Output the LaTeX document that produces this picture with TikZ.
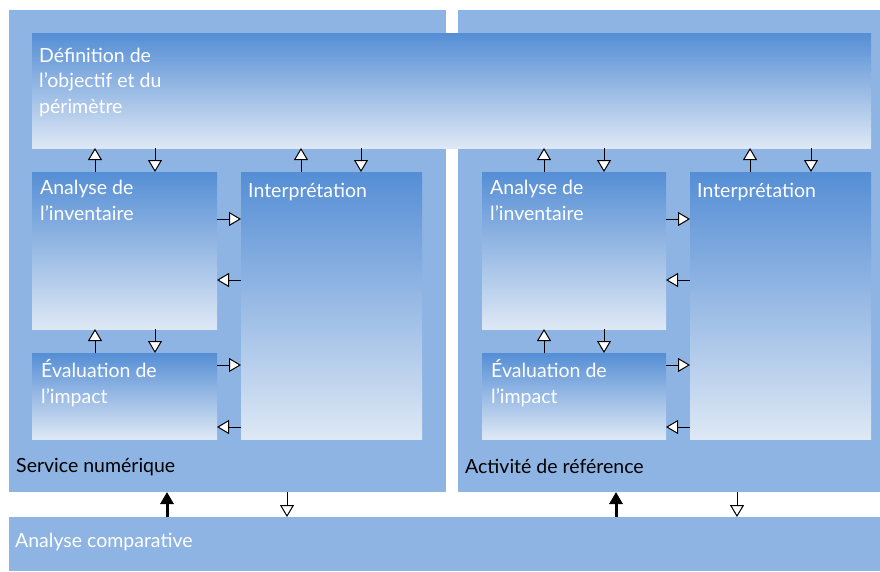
\documentclass[tikz,border=0pt]{standalone}
\usepackage{fontspec}
\setmainfont{Lato}
\usetikzlibrary{calc,arrows.meta}

\definecolor{panelblue}{HTML}{8EB4E3}
\definecolor{topblue}{HTML}{558ED5}
\definecolor{lowblue}{HTML}{DEE8F5}

\tikzset{
  panel/.style={fill=panelblue, inner sep=0, outer sep=0, anchor=north west},
  stepbox/.style={top color=topblue, bottom color=lowblue, inner sep=0, outer sep=0, anchor=north west},
  boxtext/.style={text=white, anchor=base west, align=left, inner sep=0,
    font=\fontsize{19.5}{25.5}\selectfont},
  paneltext/.style={text=black, anchor=base west, inner sep=0, font=\fontsize{19.5}{25}\selectfont},
  oarr/.style={line width=1pt, -{Triangle[width=14pt,length=12pt,fill=white]}},
  barr/.style={line width=3pt, -{Triangle[width=13pt,length=12pt]}}
}

\begin{document}
\begin{tikzpicture}[x=1pt,y=-1pt]
\useasboundingbox (0,0) rectangle (880,571);
% panels
\node[panel, minimum width=437, minimum height=482] (svc) at (9,10) {};
\node[panel, minimum width=422, minimum height=482] (ref) at (458,10) {};
\node[panel, minimum width=871, minimum height=54] (comp) at (9,517) {};
\node[paneltext] at ($(svc.south west)+(7,-20)$) {Service numérique};
\node[paneltext] at ($(ref.south west)+(7,-19)$) {Activité de référence};
\node[boxtext] at ($(comp.north west)+(6,30)$) {Analyse comparative};
% common box (base = last line)
\node[stepbox, minimum width=839, minimum height=115] (def) at (32,33) {};
\node[boxtext] at ($(def.north west)+(7,80)$) {Définition de\\l’objectif et du\\périmètre};

% service numerique
\node[stepbox, minimum width=185, minimum height=157] (invL) at (32,172) {};
\node[stepbox, minimum width=185, minimum height=86] (evalL) at (32,353) {};
\node[stepbox, minimum width=181, minimum height=267] (intL) at (241,172) {};
\node[boxtext] at ($(invL.north west)+(8,48)$) {Analyse de\\l’inventaire};
\node[boxtext] at ($(evalL.north west)+(9,50)$) {Évaluation de\\l’impact};
\node[boxtext] at ($(intL.north west)+(7,25)$) {Interprétation};
\draw[oarr] ($(invL.north west)+(63,0)$) coordinate (u) -- (u |- def.south);
\draw[oarr] ($(invL.north west)+(123,0)$) coordinate (d) (d |- def.south) -- (d);
\draw[oarr] ($(intL.north west)+(60,0)$) coordinate (u) -- (u |- def.south);
\draw[oarr] ($(intL.north west)+(120,0)$) coordinate (d) (d |- def.south) -- (d);
\draw[oarr] ($(evalL.north west)+(63,0)$) coordinate (u) -- (u |- invL.south);
\draw[oarr] ($(evalL.north west)+(123,0)$) coordinate (d) (d |- invL.south) -- (d);
\draw[oarr] ($(invL.north east)+(0,47)$) coordinate (h) -- (h -| intL.west);
\draw[oarr] ($(invL.north east)+(0,108)$) coordinate (h) (h -| intL.west) -- (h);
\draw[oarr] ($(evalL.north east)+(0,12)$) coordinate (h) -- (h -| intL.west);
\draw[oarr] ($(evalL.north east)+(0,74)$) coordinate (h) (h -| intL.west) -- (h);

% activite de reference
\node[stepbox, minimum width=184, minimum height=157] (invR) at (482,172) {};
\node[stepbox, minimum width=184, minimum height=86] (evalR) at (482,353) {};
\node[stepbox, minimum width=181, minimum height=267] (intR) at (690,172) {};
\node[boxtext] at ($(invR.north west)+(8,48)$) {Analyse de\\l’inventaire};
\node[boxtext] at ($(evalR.north west)+(9,50)$) {Évaluation de\\l’impact};
\node[boxtext] at ($(intR.north west)+(7,25)$) {Interprétation};
\draw[oarr] ($(invR.north west)+(62,0)$) coordinate (u) -- (u |- def.south);
\draw[oarr] ($(invR.north west)+(122,0)$) coordinate (d) (d |- def.south) -- (d);
\draw[oarr] ($(intR.north west)+(60,0)$) coordinate (u) -- (u |- def.south);
\draw[oarr] ($(intR.north west)+(121,0)$) coordinate (d) (d |- def.south) -- (d);
\draw[oarr] ($(evalR.north west)+(62,0)$) coordinate (u) -- (u |- invR.south);
\draw[oarr] ($(evalR.north west)+(122,0)$) coordinate (d) (d |- invR.south) -- (d);
\draw[oarr] ($(invR.north east)+(0,47)$) coordinate (h) -- (h -| intR.west);
\draw[oarr] ($(invR.north east)+(0,108)$) coordinate (h) (h -| intR.west) -- (h);
\draw[oarr] ($(evalR.north east)+(0,12)$) coordinate (h) -- (h -| intR.west);
\draw[oarr] ($(evalR.north east)+(0,74)$) coordinate (h) (h -| intR.west) -- (h);

% comparaison
\draw[barr] ($(comp.north west)+(158,0)$) coordinate (b) -- (b |- svc.south);
\draw[oarr] ($(svc.south west)+(278,0)$) coordinate (c) -- (c |- comp.north);
\draw[barr] ($(comp.north west)+(607,0)$) coordinate (b) -- (b |- ref.south);
\draw[oarr] ($(ref.south west)+(279,0)$) coordinate (c) -- (c |- comp.north);
\end{tikzpicture}
\end{document}
